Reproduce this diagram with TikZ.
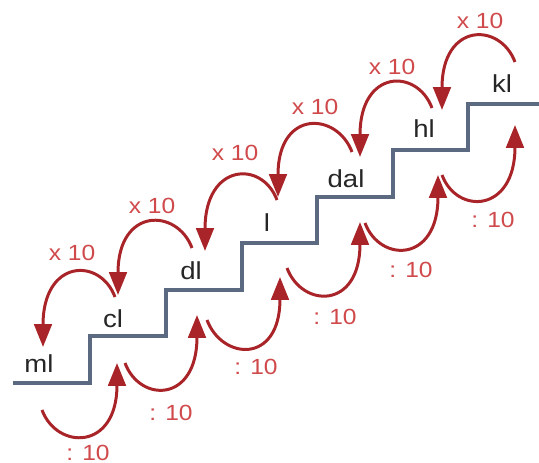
\documentclass[tikz,border=0pt]{standalone}
\usepackage{fontspec}
\setmainfont{Liberation Sans}[FakeStretch=1.12]
\usetikzlibrary{arrows.meta}

\definecolor{stairgray}{HTML}{5B6A80}
\definecolor{arcred}{HTML}{A82428}
\definecolor{facred}{HTML}{D04A4C}

\begin{document}
\begin{tikzpicture}[x=0.02cm, y=0.02cm,
    stair/.style={draw=stairgray, line width=1.8pt},
    unit/.style={font=\fontsize{14}{16}\selectfont, text=black!85, inner sep=0pt},
    arc/.style={draw=arcred, line width=1.7pt, -{Triangle[length=13pt,width=10pt]}},
    fac/.style={font=\fontsize{12.5}{15}\selectfont, text=facred, inner sep=0pt}
]
    \useasboundingbox (0,0) rectangle (539,463);
    % the stairs
    \draw[stair] (13,80) -| (90,127) -| (166,173) -| (242,220) -| (317,266) -| (393,313) -| (468,359) -- (539,359);
    % units on the steps
    \node[unit] (ml)  at (39,99)   {ml};
    \node[unit] (cl)  at (113,144) {cl};
    \node[unit] (dl)  at (191,192) {dl};
    \node[unit] (l)   at (267,240) {l};
    \node[unit] (dal) at (346,284) {dal};
    \node[unit] (hl)  at (424,334) {hl};
    \node[unit] (kl)  at (502,379) {kl};
    % ends of the x 10 arcs (down the stairs)
    \coordinate (mul1s) at (115,166); \coordinate (mul1e) at (43,116);
    \coordinate (mul2s) at (192,215); \coordinate (mul2e) at (118,168);
    \coordinate (mul3s) at (277,263); \coordinate (mul3e) at (205,212);
    \coordinate (mul4s) at (352,311); \coordinate (mul4e) at (278,266);
    \coordinate (mul5s) at (432,355); \coordinate (mul5e) at (360,306);
    \coordinate (mul6s) at (515,401); \coordinate (mul6e) at (442,353);
    % ends of the : 10 arcs (up the stairs)
    \coordinate (div1s) at (42,53);   \coordinate (div1e) at (117,100);
    \coordinate (div2s) at (125,100); \coordinate (div2e) at (197,148);
    \coordinate (div3s) at (207,143); \coordinate (div3e) at (280,186);
    \coordinate (div4s) at (287,195); \coordinate (div4e) at (360,241);
    \coordinate (div5s) at (365,240); \coordinate (div5e) at (438,288);
    \coordinate (div6s) at (442,288); \coordinate (div6e) at (515,338);
    \draw[arc] (mul1s) .. controls +(-15,40) and +(0,88) .. (mul1e);
    \draw[arc] (mul2s) .. controls +(-15,40) and +(0,88) .. (mul2e);
    \draw[arc] (mul3s) .. controls +(-15,40) and +(0,88) .. (mul3e);
    \draw[arc] (mul4s) .. controls +(-15,40) and +(0,88) .. (mul4e);
    \draw[arc] (mul5s) .. controls +(-15,40) and +(0,88) .. (mul5e);
    \draw[arc] (mul6s) .. controls +(-15,40) and +(0,88) .. (mul6e);
    \draw[arc] (div1s) .. controls +(15,-40) and +(0,-88) .. (div1e);
    \draw[arc] (div2s) .. controls +(15,-40) and +(0,-88) .. (div2e);
    \draw[arc] (div3s) .. controls +(15,-40) and +(0,-88) .. (div3e);
    \draw[arc] (div4s) .. controls +(15,-40) and +(0,-88) .. (div4e);
    \draw[arc] (div5s) .. controls +(15,-40) and +(0,-88) .. (div5e);
    \draw[arc] (div6s) .. controls +(15,-40) and +(0,-88) .. (div6e);
    % factors
    \node[fac] (f1) at (72,210)  {x 10};
    \node[fac] (f2) at (152,257) {x 10};
    \node[fac] (f3) at (235,310) {x 10};
    \node[fac] (f4) at (315,356) {x 10};
    \node[fac] (f5) at (392,396) {x 10};
    \node[fac] (f6) at (480,442) {x 10};
    \node[fac] (g1) at (88,10)   {: 10};
    \node[fac] (g2) at (171,50)  {: 10};
    \node[fac] (g3) at (256,96)  {: 10};
    \node[fac] (g4) at (335,146) {: 10};
    \node[fac] (g5) at (411,193) {: 10};
    \node[fac] (g6) at (493,243) {: 10};
\end{tikzpicture}
\end{document}
